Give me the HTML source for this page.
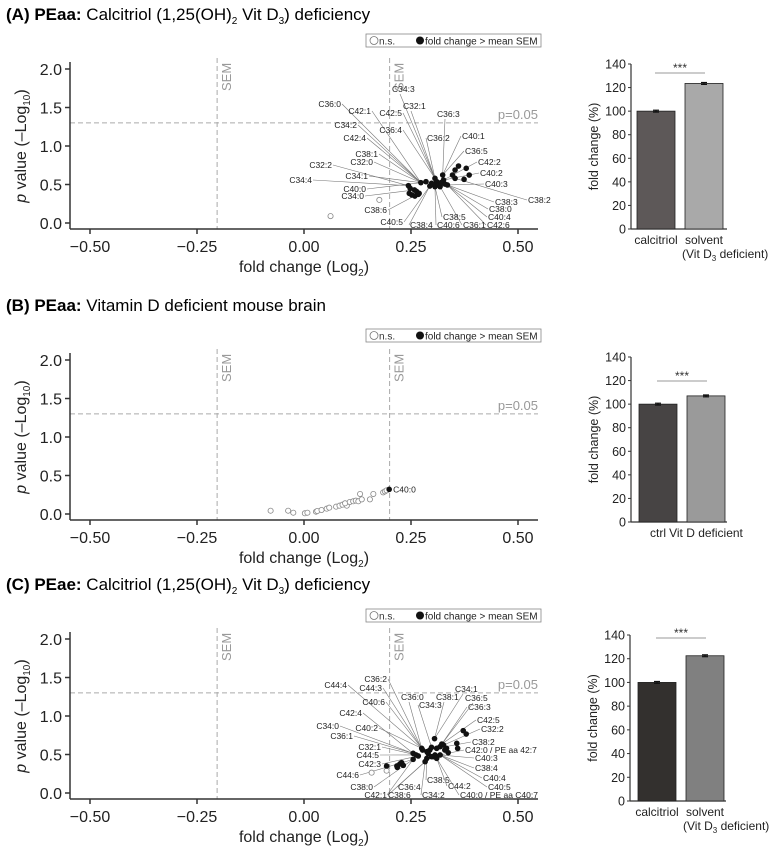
<!DOCTYPE html>
<html><head><meta charset="utf-8"><style>
html,body{margin:0;padding:0;background:#fff;}
svg{display:block;font-family:"Liberation Sans",Arial,sans-serif;}
</style></head><body>
<svg id="fig" width="778" height="858" viewBox="0 0 778 858" xmlns="http://www.w3.org/2000/svg"></svg>
<script>
// ---- data ----
const xTicks = [-0.5, -0.25, 0, 0.25, 0.5];
const xTickLabels = ["\u22120.50", "\u22120.25", "0.00", "0.25", "0.50"];
const yTicks = [0, 0.5, 1.0, 1.5, 2.0];
const yTickLabels = ["0.0", "0.5", "1.0", "1.5", "2.0"];
const semLow = -0.203, semHigh = 0.2, pThresh = 1.301;

const aSigX = [0.244,0.248,0.246,0.252,0.258,0.263,0.269,0.259,0.267,0.285,0.273,0.294,0.298,0.306,0.31,0.306,0.314,0.318,0.324,0.326,0.329,0.335,0.302,0.32,0.347,0.353,0.361,0.379,0.386,0.374,0.353];
const aSigY = [0.485,0.45,0.385,0.364,0.43,0.41,0.385,0.35,0.372,0.537,0.524,0.48,0.515,0.58,0.537,0.472,0.494,0.472,0.623,0.558,0.506,0.494,0.506,0.524,0.623,0.688,0.74,0.71,0.623,0.567,0.58];
const aNsX = [0.176, 0.062];
const aNsY = [0.30, 0.09];

const bSigX = [0.199];
const bSigY = [0.32];
const bNsX = [-0.078,-0.037,-0.025,0.002,0.008,0.028,0.031,0.041,0.053,0.059,0.075,0.083,0.09,0.1,0.096,0.107,0.115,0.121,0.127,0.131,0.135,0.154,0.162,0.185,0.189,0.193];
const bNsY = [0.043,0.043,0.017,0.009,0.017,0.03,0.039,0.052,0.069,0.082,0.095,0.108,0.121,0.108,0.139,0.156,0.165,0.173,0.165,0.26,0.19,0.19,0.26,0.281,0.294,0.307];

const cSigX = [0.305,0.372,0.379,0.357,0.359,0.275,0.277,0.255,0.262,0.267,0.255,0.283,0.287,0.29,0.294,0.302,0.306,0.31,0.318,0.322,0.326,0.329,0.333,0.337,0.298,0.31,0.318,0.287,0.193,0.217,0.224,0.228,0.232,0.218,0.298];
const cSigY = [0.706,0.81,0.766,0.645,0.58,0.58,0.558,0.515,0.494,0.481,0.437,0.407,0.45,0.515,0.558,0.472,0.494,0.58,0.602,0.636,0.623,0.558,0.58,0.524,0.472,0.45,0.494,0.537,0.351,0.351,0.377,0.394,0.359,0.333,0.593];
const cNsX = [0.158, 0.193];
const cNsY = [0.264, 0.29];

// label layout (text, anchor, pixel x, pixel y)
const aLabels = [
["C36:0","end",341,107],["C42:1","end",371,114],["C42:5","end",402,116],["C34:2","end",357,128],["C36:4","end",402,133],
["C42:4","end",366,141],["C38:1","end",378,157],["C32:0","end",373,165],["C32:2","end",332,168],["C34:1","end",368,179],
["C34:4","end",312,183],["C40:0","end",366,192],["C34:0","end",364,199],["C38:6","end",387,213],["C40:5","end",403,225],
["C38:4","start",410,228],["C34:3","start",392,92],["C32:1","start",403,109],["C36:3","start",437,117],["C36:2","start",427,141],
["C40:1","start",462,139],["C36:5","start",465,154],["C42:2","start",478,165],["C40:2","start",480,176],["C40:3","start",485,187],
["C38:2","start",528,203],["C38:3","start",495,205],["C38:0","start",489,212],["C40:4","start",488,220],["C42:6","start",487,228],
["C36:1","start",463,228],["C40:6","start",437,228],["C38:5","start",443,220]];
const cLabels = [
["C44:4","end",347,688],["C36:2","end",387,682],["C44:3","end",382,691],["C40:6","end",385,705],["C42:4","end",362,716],
["C34:0","end",339,729],["C40:2","end",378,731],["C36:1","end",353,739],["C32:1","end",381,750],["C44:5","end",379,758],
["C42:3","end",381,767],["C44:6","end",359,778],["C38:0","end",373,790],["C42:1","end",387,798],["C38:6","start",388,798],
["C36:4","start",398,790],["C34:2","start",422,798],["C38:5","start",427,783],["C44:2","start",448,789],["C40:0 / PE aa C40:7","start",460,798],
["C40:5","start",488,790],["C40:4","start",483,781],["C38:4","start",475,771],["C40:3","start",475,761],["C42:0 / PE aa 42:7","start",465,753],
["C38:2","start",472,745],["C32:2","start",481,732],["C42:5","start",477,723],["C36:3","start",468,710],["C36:5","start",465,701],
["C34:1","start",455,692],["C38:1","start",436,700],["C36:0","start",401,700],["C34:3","start",419,708]];

const barTicks = [0,20,40,60,80,100,120,140];
const barA = [100, 123.5], barAErr=[0.8,0.8], barACats=["calcitriol","solvent"];
const barB = [100, 107], barBErr=[0.8,0.8], barBCats=["ctrl","Vit D deficient"];
const barC = [100, 122.5], barCErr=[0.8,0.8], barCCats=["calcitriol","solvent"];

// ---- drawing ----
const NS="http://www.w3.org/2000/svg";
const svg=document.getElementById('fig');
function mk(tag, attrs, parent, text){
  const e=document.createElementNS(NS,tag);
  for(const k in attrs) e.setAttribute(k,attrs[k]);
  if(text!==undefined) e.textContent=text;
  (parent||svg).appendChild(e); return e;
}
const sx = v => 304 + v*428;

function volcano(key, y0, title1, title2Html, legY, sigX, sigY, nsX, nsY, labels, single){
  const g=mk('g',{});
  
  
  const sy = v => y0 - v*77;
  const t=mk('text',{x:6,y:y0-203,'font-size':17},g);
  
  
  t.innerHTML='<tspan font-weight="bold">'+title1+'</tspan> '+title2Html;
  const lg=mk('g',{},g);
  
  
  mk('rect',{x:366,y:legY,width:175,height:13,fill:'#fff',stroke:'#888','stroke-width':0.8},lg);
  mk('circle',{cx:374,cy:legY+6.5,r:4,fill:'none',stroke:'#777','stroke-width':0.8},lg);
  mk('text',{x:379,y:legY+10.5,'font-size':10,fill:'#333'},lg,'n.s.');
  mk('circle',{cx:420,cy:legY+6.5,r:4,fill:'#111'},lg);
  mk('text',{x:425,y:legY+10.5,'font-size':10,fill:'#222'},lg,'fold change > mean SEM');
  const sl=mk('line',{x1:sx(semLow),x2:sx(semLow),y1:y0-165,y2:y0+6,stroke:'#aaa','stroke-dasharray':'5,3','stroke-width':1},g);
   
  const sh=mk('line',{x1:sx(semHigh),x2:sx(semHigh),y1:y0-165,y2:y0+6,stroke:'#aaa','stroke-dasharray':'5,3','stroke-width':1},g);
   
  const pl=mk('line',{x1:70,x2:538,y1:sy(pThresh),y2:sy(pThresh),stroke:'#aaa','stroke-dasharray':'5,3','stroke-width':1},g);
   
  mk('text',{x:538,y:sy(pThresh)-4,'font-size':13,fill:'#999','text-anchor':'end'},g,'p=0.05');
  [semLow,semHigh].forEach(s=>{
    mk('text',{x:0,y:0,'font-size':13,fill:'#999',transform:`translate(${sx(s)+14},${y0-132}) rotate(-90)`},g,'SEM');
  });
  mk('line',{x1:70,x2:70,y1:y0-161,y2:y0+6,stroke:'#333','stroke-width':1.5},g);
  mk('line',{x1:70,x2:538,y1:y0+6,y2:y0+6,stroke:'#333','stroke-width':1.5},g);
  yTicks.forEach((v,i)=>{
    mk('line',{x1:65,x2:70,y1:sy(v),y2:sy(v),stroke:'#333','stroke-width':1.5},g);
    mk('text',{x:62,y:sy(v)+6,'font-size':16,'text-anchor':'end',fill:'#222'},g,yTickLabels[i]);
  });
  xTicks.forEach((v,i)=>{
    mk('line',{x1:sx(v),x2:sx(v),y1:y0+6,y2:y0+11,stroke:'#333','stroke-width':1.5},g);
    mk('text',{x:sx(v),y:y0+29,'font-size':16,'text-anchor':'middle',fill:'#222'},g,xTickLabels[i]);
  });
  const xl=mk('text',{x:304,y:y0+49,'font-size':16,'text-anchor':'middle',fill:'#222'},g);
  xl.innerHTML='fold change (Log<tspan font-size="10" dy="4">2</tspan><tspan dy="-4">)</tspan>';
   
  const yl=mk('text',{x:0,y:0,'font-size':16,'text-anchor':'middle',fill:'#222',transform:`translate(26,${y0-77}) rotate(-90)`},g);
  yl.innerHTML='<tspan font-style="italic">p</tspan> value (\u2013Log<tspan font-size="10" dy="4">10</tspan><tspan dy="-4">)</tspan>';
   
  // centroid of significant points
  let cx=0, cy=0;
  sigX.forEach((v,i)=>{cx+=sx(v); cy+=sy(sigY[i]);});
  cx/=sigX.length; cy/=sigX.length;
  labels.forEach(L=>{
    const [txt,anch,lx,ly]=L;
    let ax = anch==='end'? lx+1 : lx-1;
    let ay = ly-3;
    if(ly < y0-90 && anch==='start'){ ay = ly+2; ax = lx+8; }
    const tx = cx + 0.25*(ax-cx), ty = cy + 0.25*(ay-cy);
    let best=0,bd=1e9;
    for(let i=0;i<sigX.length;i++){const d=(sx(sigX[i])-tx)**2+(sy(sigY[i])-ty)**2; if(d<bd){bd=d;best=i;}}
    mk('line',{x1:ax,y1:ay,x2:sx(sigX[best]),y2:sy(sigY[best]),stroke:'#777','stroke-width':0.6},g);
    const lt=mk('text',{x:lx,y:ly,'font-size':8.5,'text-anchor':anch,fill:'#222'},g,txt);
    
    
  });
  nsX.forEach((v,i)=>{
    const c=mk('circle',{cx:sx(v),cy:sy(nsY[i]),r:2.6,fill:'#fff',stroke:'#888','stroke-width':0.8},g);
    
    
  });
  sigX.forEach((v,i)=>{
    const c=mk('circle',{cx:sx(v),cy:sy(sigY[i]),r:2.8,fill:'#111'},g);
    
    
  });
  if(single){ mk('text',{x:sx(sigX[0])+4,y:sy(sigY[0])+3,'font-size':8.5,fill:'#222'},g,single); }
}

function barChart(key, axisX, zeroY, topY, vals, errs, cats, colors, sigY, x1, cat2){
  const g=mk('g',{});
  
  
  const sy = v => zeroY - v*(zeroY-topY)/140;
  mk('line',{x1:axisX,x2:axisX,y1:topY,y2:zeroY,stroke:'#333','stroke-width':1.2},g);
  mk('line',{x1:axisX,x2:axisX+96,y1:zeroY,y2:zeroY,stroke:'#333','stroke-width':1.2},g);
  barTicks.forEach(v=>{
    mk('line',{x1:axisX-3,x2:axisX,y1:sy(v),y2:sy(v),stroke:'#333','stroke-width':1},g);
    mk('text',{x:axisX-5,y:sy(v)+4.5,'font-size':12.5,'text-anchor':'end',fill:'#222'},g,String(v));
  });
  mk('text',{x:0,y:0,'font-size':12.5,'text-anchor':'middle',fill:'#222',transform:`translate(${axisX-33},${(zeroY+topY)/2}) rotate(-90)`},g,'fold change (%)');
  const bx=[x1, x1+48];
  vals.forEach((v,i)=>{
    const r=mk('rect',{x:bx[i],y:sy(v),width:38,height:zeroY-sy(v),fill:colors[i],stroke:'#222','stroke-width':0.8},g);
    
    
    mk('line',{x1:bx[i]+16,x2:bx[i]+22,y1:sy(v+errs[i]),y2:sy(v+errs[i]),stroke:'#111','stroke-width':1.2},g);
    mk('line',{x1:bx[i]+16,x2:bx[i]+22,y1:sy(v-errs[i]),y2:sy(v-errs[i]),stroke:'#111','stroke-width':1.2},g);
    mk('line',{x1:bx[i]+19,x2:bx[i]+19,y1:sy(v+errs[i]),y2:sy(v-errs[i]),stroke:'#111','stroke-width':1.2},g);
    mk('text',{x:bx[i]+19,y:zeroY+15,'font-size':12,'text-anchor':'middle',fill:'#222'},g,cats[i]);
  });
  if(cat2){
    const t=mk('text',{x:bx[1]-3,y:zeroY+29,'font-size':12,fill:'#222'},g);
    t.innerHTML='(Vit D<tspan font-size="8" dy="3">3</tspan><tspan dy="-3"> deficient)</tspan>';
  }
  mk('line',{x1:x1+18,x2:x1+68,y1:sigY,y2:sigY,stroke:'#999','stroke-width':1},g);
  mk('text',{x:x1+43,y:sigY-1,'font-size':12,'text-anchor':'middle',fill:'#333'},g,'***');
}

volcano('a',223,'(A) PEaa:','Calcitriol (1,25(OH)<tspan font-size="10" dy="4">2</tspan><tspan dy="-4"> Vit D</tspan><tspan font-size="10" dy="4">3</tspan><tspan dy="-4">) deficiency</tspan>',34,aSigX,aSigY,aNsX,aNsY,aLabels,null);
volcano('b',514,'(B) PEaa:','Vitamin D deficient mouse brain',329,bSigX,bSigY,bNsX,bNsY,[],'C40:0');
volcano('c',793,'(C) PEae:','Calcitriol (1,25(OH)<tspan font-size="10" dy="4">2</tspan><tspan dy="-4"> Vit D</tspan><tspan font-size="10" dy="4">3</tspan><tspan dy="-4">) deficiency</tspan>',609,cSigX,cSigY,cNsX,cNsY,cLabels,null);

barChart('a',631,229,64,barA,barAErr,barACats,['#5d5858','#a9a9a9'],73,637,true);
barChart('b',631,522,357,barB,barBErr,barBCats,['#474444','#9a9a9a'],381,639,false);
barChart('c',630,801,635,barC,barCErr,barCCats,['#33302e','#808080'],638,638,true);
</script>
</body></html>
